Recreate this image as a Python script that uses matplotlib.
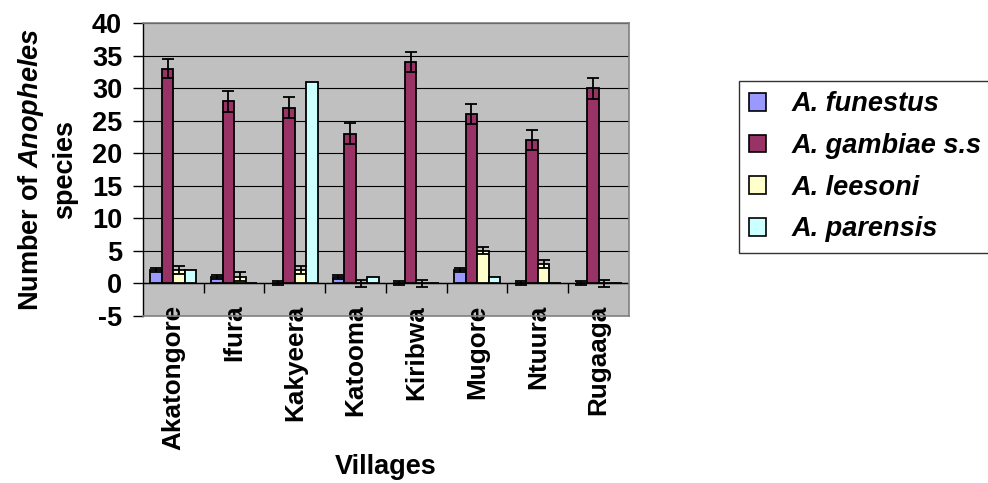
import matplotlib
matplotlib.use('Agg')
import matplotlib.pyplot as plt
import numpy as np
from matplotlib.patches import Patch

villages = ['Akatongore', 'Ifura', 'Kakyeera', 'Katooma', 'Kiribwa',
            'Mugore', 'Ntuura', 'Rugaaga']
species = ['A. funestus', 'A. gambiae s.s', 'A. leesoni', 'A. parensis']

funestus = [2, 1, 0, 1, 0, 2, 0, 0]
gambiae = [33, 28, 27, 23, 34, 26, 22, 30]
leesoni = [2, 1, 2, 0, 0, 5, 3, 0]
parensis = [2, 0, 31, 1, 0, 1, 0, 0]

funestus_err = [0.3, 0.35, 0.3, 0.35, 0.3, 0.3, 0.3, 0.3]
gambiae_err = [1.5, 1.6, 1.6, 1.6, 1.5, 1.5, 1.5, 1.6]
leesoni_err = [0.6, 0.7, 0.6, 0.55, 0.55, 0.55, 0.65, 0.55]
parensis_err = None

colors = ['#9999FF', '#993366', '#FFFFCC', '#CCFFFF']

plt.rcParams['font.family'] = 'Liberation Sans'
plt.rcParams['font.weight'] = 'bold'
plt.rcParams['axes.labelweight'] = 'bold'
plt.rcParams['axes.unicode_minus'] = False
plt.rcParams['mathtext.fontset'] = 'custom'
plt.rcParams['mathtext.it'] = 'Liberation Sans:italic:bold'
plt.rcParams['mathtext.rm'] = 'Liberation Sans:bold'

fs = 19.5

fig = plt.figure(figsize=(9.88, 4.83), dpi=100)
ax = fig.add_axes([0.1447, 0.3458, 0.4919, 0.6066])
ax.set_facecolor('#C0C0C0')

x = np.arange(len(villages))
w = 0.19
series = [funestus, gambiae, leesoni, parensis]
errs = [funestus_err, gambiae_err, leesoni_err, parensis_err]

for i, (vals, err) in enumerate(zip(series, errs)):
    pos = x + (i - 1.5) * w
    ax.bar(pos, vals, w, color=colors[i], edgecolor='black', linewidth=1.3,
           zorder=3)
    if err is not None:
        ax.errorbar(pos, vals, yerr=err, fmt='none', ecolor='black',
                    elinewidth=1.3, capsize=4.5, capthick=1.3, zorder=4)

ax.set_ylim(-5, 40)
ax.set_xlim(-0.5, len(villages) - 0.5)
ax.set_yticks(np.arange(-5, 41, 5))
ax.yaxis.grid(True, color='black', linewidth=0.8, zorder=1)
ax.set_axisbelow(True)
ax.axhline(0, color='black', linewidth=1.0, zorder=2)
ax.vlines(x[1:] - 0.5, -1.4, 0, color='black', linewidth=1.0, zorder=2)

ax.set_xticks(x)
ax.set_xticklabels(villages, rotation=90, va='top', fontsize=18.8,
                   fontweight='bold')
ax.tick_params(axis='x', length=0, pad=-8)
ax.tick_params(axis='y', length=7, width=1, direction='out', pad=8,
               labelsize=fs)

for s in ['top', 'right', 'bottom']:
    ax.spines[s].set_color('#808080')
    ax.spines[s].set_linewidth(1.2)
ax.spines['left'].set_color('black')
ax.spines['left'].set_linewidth(1.0)

ax.set_xlabel('Villages', fontsize=fs, fontweight='bold', labelpad=3)
ax.set_ylabel('Number of $\\mathit{Anopheles}$\nspecies', fontsize=fs,
              fontweight='bold', labelpad=10, linespacing=1.3)

handles = [Patch(facecolor=c, edgecolor='black', linewidth=1.2) for c in colors]
leg = fig.legend(handles, species, loc='upper left',
                 bbox_to_anchor=(739 / 988, 1 - 81 / 483),
                 prop={'family': 'Liberation Sans', 'weight': 'bold',
                       'style': 'italic', 'size': fs},
                 handlelength=0.62, handleheight=0.62, handletextpad=0.95,
                 labelspacing=0.58, borderpad=0.38, borderaxespad=0,
                 frameon=True, fancybox=False)
leg.get_frame().set_edgecolor('black')
leg.get_frame().set_linewidth(1.0)

fig.savefig('out.png', dpi=100)
